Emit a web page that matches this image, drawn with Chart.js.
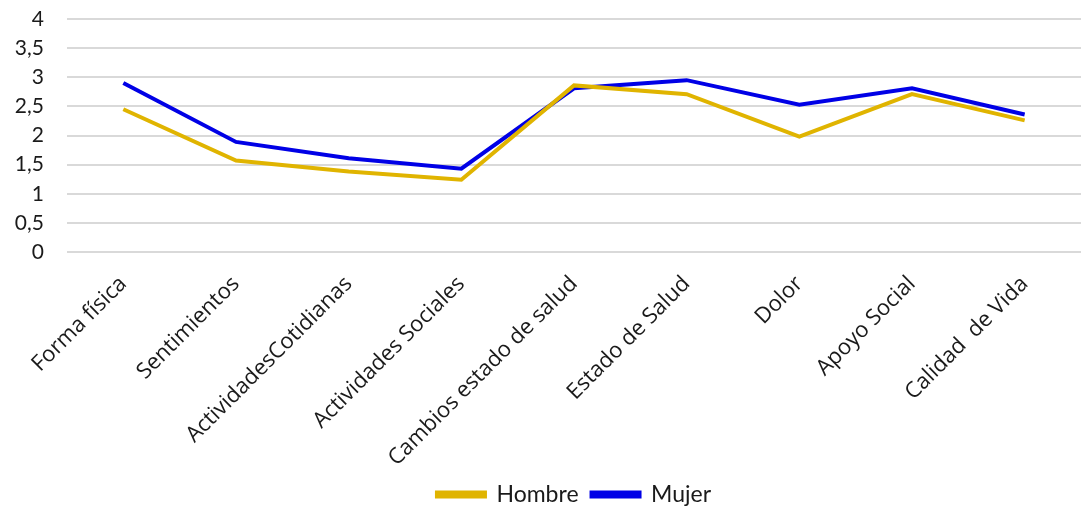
<!DOCTYPE html>
<html>
<head>
<meta charset="utf-8">
<script src="https://cdn.jsdelivr.net/npm/chart.js@4"></script>
<style>
  html, body { margin: 0; padding: 0; background: #fff; }
  #wrap { width: 1083px; height: 506px; }
</style>
</head>
<body>
<div id="wrap"><canvas id="lineChart"></canvas></div>
<script>
let categories = ['Forma física', 'Sentimientos', 'ActividadesCotidianas', 'Actividades Sociales',
    'Cambios estado de salud', 'Estado de Salud', 'Dolor', 'Apoyo Social', 'Calidad  de Vida'];
let hombre = [2.45, 1.57, 1.38, 1.24, 2.86, 2.71, 1.98, 2.71, 2.26];
let mujer = [2.90, 1.89, 1.61, 1.43, 2.81, 2.95, 2.53, 2.81, 2.36];

let ctx = document.getElementById('lineChart').getContext('2d');
Chart.defaults.font.family = 'Lato, "Noto Sans", sans-serif';
Chart.defaults.color = '#1a1a1a';

let chart = new Chart(ctx, {
    type: 'line',
    data: {
        labels: categories,
        datasets: [{
            label: 'Hombre',
            data: hombre,
            borderColor: '#E0B400',
            backgroundColor: '#E0B400',
            borderWidth: 4,
            pointRadius: 0,
            tension: 0
        }, {
            label: 'Mujer',
            data: mujer,
            borderColor: '#0000E6',
            backgroundColor: '#0000E6',
            borderWidth: 4,
            pointRadius: 0,
            tension: 0
        }]
    },
    options: {
        responsive: true,
        maintainAspectRatio: false,
        animation: false,
        layout: { padding: { top: 0, right: 2, left: 0, bottom: -10 } },
        plugins: {
            tooltip: { enabled: false },
            legend: {
                position: 'bottom',
                fullSize: false,
                labels: {
                    boxWidth: 48,
                    boxHeight: 4,
                    padding: 13,
                    font: { size: 23 }
                }
            }
        },
        scales: {
            x: {
                offset: true,
                grid: { display: false },
                border: { display: false },
                ticks: {
                    minRotation: 45,
                    maxRotation: 45,
                    padding: 11,
                    font: { family: '"Open Sans"', size: 22 }
                },
                afterFit: scale => { scale.height = 218; }
            },
            y: {
                min: 0,
                max: 4,
                grid: { color: '#d9d9d9', lineWidth: 2, drawTicks: false },
                border: { display: false },
                ticks: {
                    stepSize: 0.5,
                    autoSkip: false,
                    padding: 23,
                    font: { size: 21 },
                    callback: v => String(v).replace('.', ',')
                },
                afterFit: scale => {
                    scale.width = 67;
                    scale.paddingTop = 19;
                    scale.paddingBottom = 0;
                }
            }
        }
    }
});
</script>
</body>
</html>
